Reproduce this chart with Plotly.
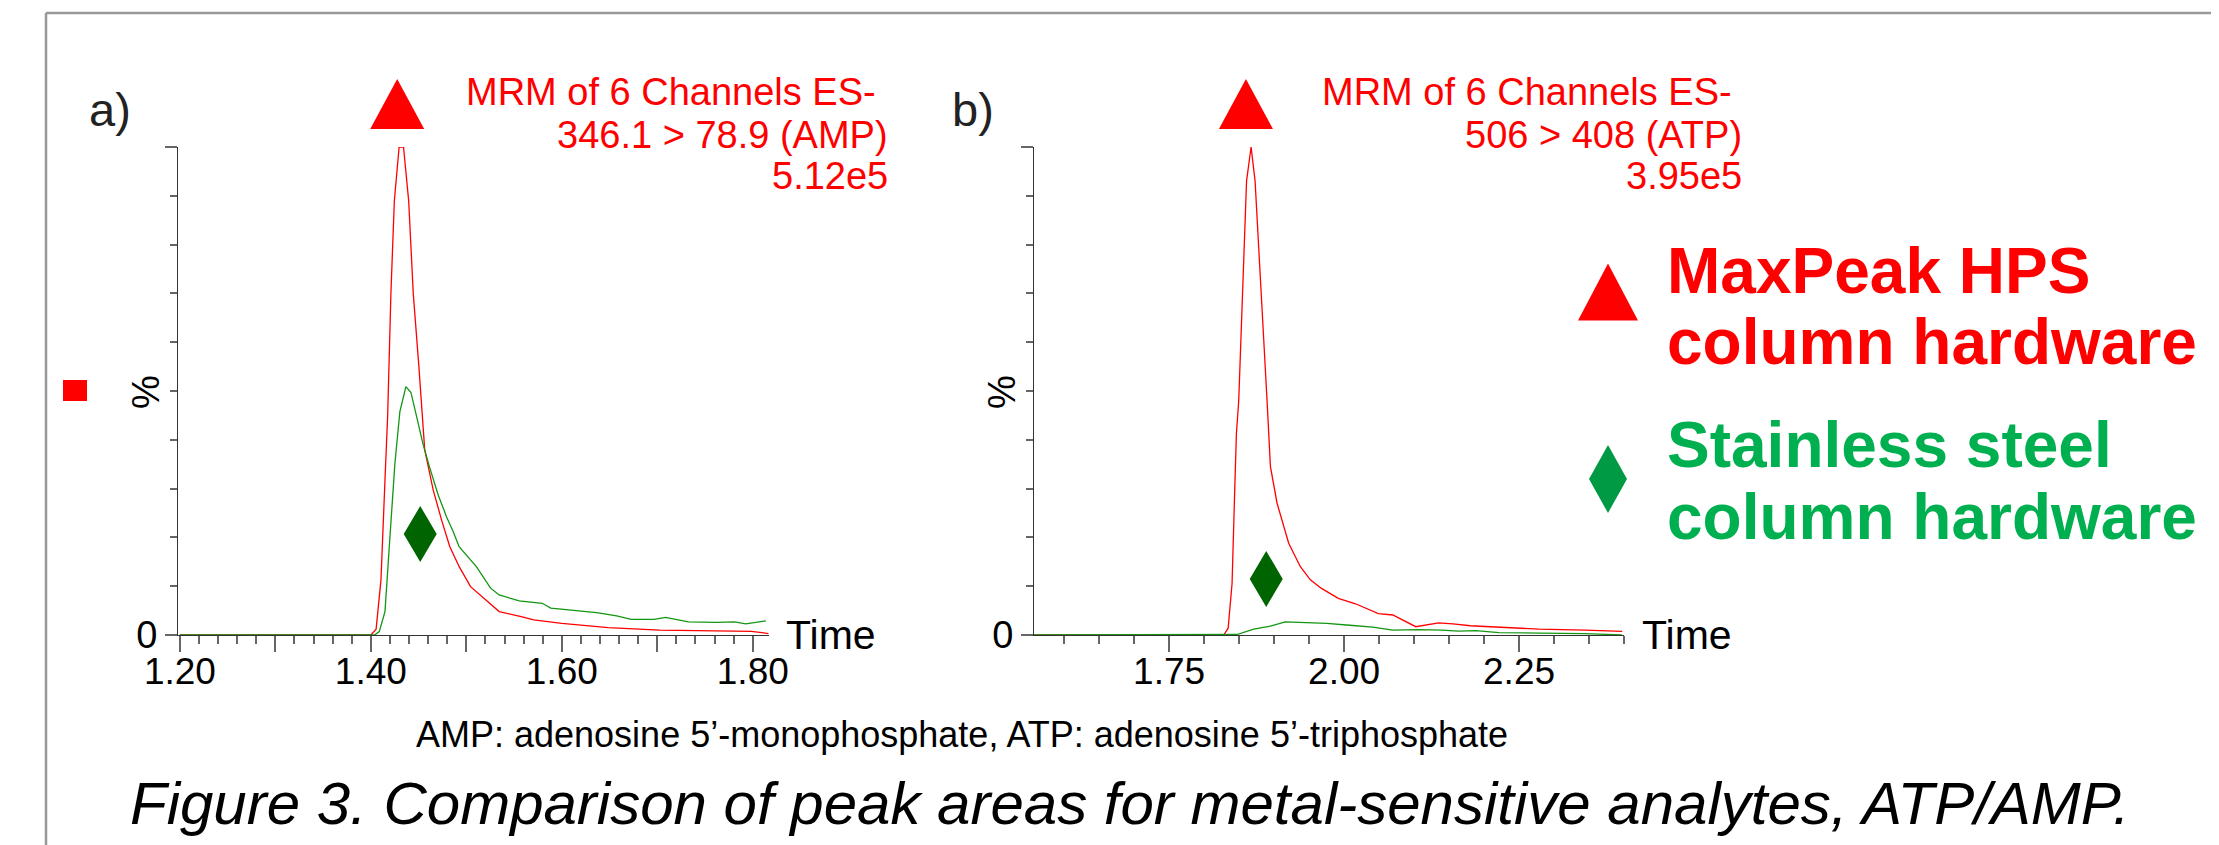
import plotly.graph_objects as go

W, H = 2219, 845
OFF = 8  # page body margin of the browser
FONT = "Liberation Sans, Arial, sans-serif"

# ---------------- data ----------------
# Panel a (AMP), time in min, intensity in %
amp_red_t = [1.20, 1.400, 1.4055, 1.4106, 1.4148, 1.4176, 1.421, 1.4246, 1.4296, 1.4342, 1.4396, 1.4444, 1.4503,
             1.4564, 1.4653, 1.474, 1.4827, 1.4925, 1.5044, 1.5225, 1.5344, 1.5585, 1.5705, 1.60, 1.6485,
             1.7025, 1.733, 1.7987, 1.8164]
amp_red_v = [0, 0, 1.2, 11.3, 31.8, 45, 70, 89, 100, 100, 89, 70, 55,
             38, 29.7, 23.6, 18.1, 14, 9.9, 6.8, 4.8, 3.7, 3.1, 2.4, 1.5,
             1.0, 0.9, 0.76, 0.3]
amp_green_t = [1.20, 1.404, 1.4088, 1.4148, 1.4193, 1.4252, 1.4304, 1.4367, 1.442, 1.4479, 1.4549, 1.4618,
               1.4705, 1.4793, 1.4862, 1.4924, 1.5105, 1.5254, 1.5344, 1.5554, 1.5795, 1.5884, 1.6124,
               1.6365, 1.6575, 1.6726, 1.6966, 1.7087, 1.7327, 1.7627, 1.7807, 1.7927, 1.8137]
amp_green_v = [0, 0, 0.7, 4.8, 18.1, 35.2, 45.8, 50.9, 49.7, 44.7, 38.9, 34.2,
               28.7, 24.2, 21.2, 18.1, 14, 9.6, 8.2, 7.0, 6.5, 5.5, 5.0,
               4.6, 3.9, 3.2, 3.2, 3.6, 2.7, 2.6, 2.7, 2.3, 2.9]

# Panel b (ATP)
atp_red_t = [1.557, 1.828, 1.8344, 1.840, 1.8434, 1.8462, 1.8495, 1.8607, 1.8672, 1.8729, 1.890, 1.8948,
             1.9043, 1.9209, 1.9376, 1.9519, 1.9672, 1.9918, 2.0164, 2.049, 2.0697, 2.1024, 2.1352,
             2.1557, 2.1803, 2.2377, 2.2787, 2.3443, 2.3974]
atp_red_v = [0, 0, 1.4, 10.6, 27.7, 41.3, 48, 93, 100, 93, 48, 34.5,
             27, 18.8, 14, 11.3, 9.6, 7.5, 6.4, 4.4, 4.1, 1.7, 2.5,
             2.3, 1.9, 1.5, 1.2, 1.0, 0.76]
atp_green_t = [1.557, 1.847, 1.871, 1.8948, 1.916, 1.952, 1.9754, 2.0081, 2.041, 2.0697, 2.1065, 2.1394,
               2.1639, 2.1885, 2.2213, 2.279, 2.344, 2.397]
atp_green_v = [0, 0.1, 1.2, 1.8, 2.7, 2.5, 2.4, 2.0, 1.6, 1.0, 1.1, 1.0,
               0.8, 0.9, 0.5, 0.4, 0.3, 0.0]

# marker positions (time, %)
amp_triangle_t = 1.4276
atp_triangle_t = 1.8598
amp_diamond = (1.4517, 20.7)
atp_diamond = (1.8888, 11.5)

amp_ticks = [1.2, 1.3, 1.4, 1.5, 1.6, 1.7, 1.8]
amp_ticktext = ["1.20", "", "1.40", "", "1.60", "", "1.80"]
atp_ticks = [1.75, 2.00, 2.25]
atp_ticktext = ["1.75", "2.00", "2.25"]

RED = "#ff0000"
GREEN_LINE = "#129612"
DARK_GREEN = "#006400"
LEG_GREEN = "#00b050"
LEG_DIAMOND = "#009a44"


def px(x):
    return (x - OFF) / W


def py(y):
    return 1 - (y - OFF) / H


fig = go.Figure()
line_w = 1.3
fig.add_trace(go.Scatter(x=amp_red_t, y=amp_red_v, mode="lines", line=dict(color=RED, width=line_w),
                         xaxis="x", yaxis="y"))
fig.add_trace(go.Scatter(x=amp_green_t, y=amp_green_v, mode="lines", line=dict(color=GREEN_LINE, width=line_w),
                         xaxis="x", yaxis="y"))
fig.add_trace(go.Scatter(x=atp_red_t, y=atp_red_v, mode="lines", line=dict(color=RED, width=line_w),
                         xaxis="x2", yaxis="y2"))
fig.add_trace(go.Scatter(x=atp_green_t, y=atp_green_v, mode="lines", line=dict(color=GREEN_LINE, width=line_w),
                         xaxis="x2", yaxis="y2"))

y_dom = [py(635), py(147)]
tickfont = dict(family=FONT, size=37, color="#000")
common_x = dict(showgrid=False, zeroline=False, showline=True, linecolor="#333", linewidth=1,
                ticks="outside", ticklen=16, tickcolor="#666", tickwidth=1.5, tickfont=tickfont,
                ticklabelstandoff=-12, automargin=False, fixedrange=True)
common_y = dict(showgrid=False, zeroline=False, showline=True, linecolor="#333", linewidth=1,
                ticks="outside", ticklen=12, tickcolor="#666", tickwidth=1.5,
                tickfont=dict(family=FONT, size=38, color="#000"),
                range=[0, 100], tickmode="array", tickvals=[0, 100], ticktext=["0", ""],
                minor=dict(ticks="outside", ticklen=7, tickcolor="#666", tickmode="array",
                           tickvals=[10, 20, 30, 40, 50, 60, 70, 80, 90]),
                automargin=False, fixedrange=True)

fig.update_layout(
    width=W, height=H, margin=dict(l=0, r=0, t=0, b=0, autoexpand=False),
    paper_bgcolor="white", plot_bgcolor="white", showlegend=False,
    xaxis=dict(domain=[px(178), px(769)], range=[1.198, 1.817], anchor="y",
               tickmode="array", tickvals=amp_ticks, ticktext=amp_ticktext,
               minor=dict(ticks="outside", ticklen=8, tickcolor="#666", dtick=0.02, tick0=1.2),
               **common_x),
    yaxis=dict(domain=y_dom, anchor="x", **common_y),
    xaxis2=dict(domain=[px(1034), px(1624)], range=[1.557, 2.40], anchor="y2",
                tickmode="array", tickvals=atp_ticks, ticktext=atp_ticktext,
                minor=dict(ticks="outside", ticklen=8, tickcolor="#666", dtick=0.05, tick0=1.6),
                **common_x),
    yaxis2=dict(domain=y_dom, anchor="x2", **common_y),
)

ann = []


def text(x, y, s, size, color="#000", xanchor="center", yanchor="middle", bold=False, italic=False, angle=0):
    if bold:
        s = "<b>" + s + "</b>"
    if italic:
        s = "<i>" + s + "</i>"
    ann.append(dict(x=px(x), y=py(y), xref="paper", yref="paper", text=s, showarrow=False,
                    xanchor=xanchor, yanchor=yanchor, textangle=angle,
                    font=dict(family=FONT, size=size, color=color)))


# panel labels
text(110, 110, "a)", 47, "#222")
text(973, 110, "b)", 47, "#222")
# MRM annotations
text(878, 92, "MRM of 6 Channels ES-", 38, RED, xanchor="right")
text(890, 135, "346.1 &gt; 78.9 (AMP)", 38, RED, xanchor="right")
text(890, 176, "5.12e5", 38, RED, xanchor="right")
text(1734, 92, "MRM of 6 Channels ES-", 38, RED, xanchor="right")
text(1744, 135, "506 &gt; 408 (ATP)", 38, RED, xanchor="right")
text(1744, 176, "3.95e5", 38, RED, xanchor="right")
# axis decorations
text(831, 635, "Time", 41)
text(1687, 635, "Time", 41)
text(146, 392, "%", 38, angle=-90)
text(1002, 392, "%", 38, angle=-90)
# legend
text(1665, 271, "MaxPeak HPS", 64, RED, xanchor="left", bold=True)
text(1665, 342, "column hardware", 64, RED, xanchor="left", bold=True)
text(1665, 445, "Stainless steel", 64, LEG_GREEN, xanchor="left", bold=True)
text(1665, 517, "column hardware", 64, LEG_GREEN, xanchor="left", bold=True)
# captions
text(962, 734, "AMP: adenosine 5’-monophosphate, ATP: adenosine 5’-triphosphate", 36)
text(1130, 803, "Figure 3. Comparison of peak areas for metal-sensitive analytes, ATP/AMP.", 60, italic=True)

fig.update_layout(annotations=ann)


def tri_path(w, h):
    return f"M {-w/2},{-h/2} L {w/2},{-h/2} L 0,{h/2} Z"


def dia_path(w, h):
    return f"M 0,{h/2} L {w/2},0 L 0,{-h/2} L {-w/2},0 Z"


shapes = [
    dict(type="line", xref="paper", yref="paper", x0=px(46), x1=1, y0=py(13), y1=py(13),
         line=dict(color="#999", width=2.5)),
    dict(type="line", xref="paper", yref="paper", x0=px(46), x1=px(46), y0=py(13), y1=0,
         line=dict(color="#999", width=2.5)),
    dict(type="rect", xref="paper", yref="paper", x0=px(63), x1=px(87), y0=py(401), y1=py(380),
         fillcolor=RED, line=dict(width=0)),
    # peak triangles
    dict(type="path", xref="x", yref="paper", xsizemode="pixel", ysizemode="pixel",
         xanchor=amp_triangle_t, yanchor=py(104), path=tri_path(54, 50), fillcolor=RED, line=dict(width=0)),
    dict(type="path", xref="x2", yref="paper", xsizemode="pixel", ysizemode="pixel",
         xanchor=atp_triangle_t, yanchor=py(104), path=tri_path(54, 50), fillcolor=RED, line=dict(width=0)),
    # diamonds
    dict(type="path", xref="x", yref="y", xsizemode="pixel", ysizemode="pixel",
         xanchor=amp_diamond[0], yanchor=amp_diamond[1], path=dia_path(33, 56), fillcolor=DARK_GREEN,
         line=dict(width=0)),
    dict(type="path", xref="x2", yref="y2", xsizemode="pixel", ysizemode="pixel",
         xanchor=atp_diamond[0], yanchor=atp_diamond[1], path=dia_path(33, 56), fillcolor=DARK_GREEN,
         line=dict(width=0)),
    # legend symbols
    dict(type="path", xref="paper", yref="paper", xsizemode="pixel", ysizemode="pixel",
         xanchor=px(1608), yanchor=py(292), path=tri_path(60, 57), fillcolor=RED, line=dict(width=0)),
    dict(type="path", xref="paper", yref="paper", xsizemode="pixel", ysizemode="pixel",
         xanchor=px(1608), yanchor=py(479), path=dia_path(38, 68), fillcolor=LEG_DIAMOND, line=dict(width=0)),
]
fig.update_layout(shapes=shapes)

fig.write_html("out.html")
